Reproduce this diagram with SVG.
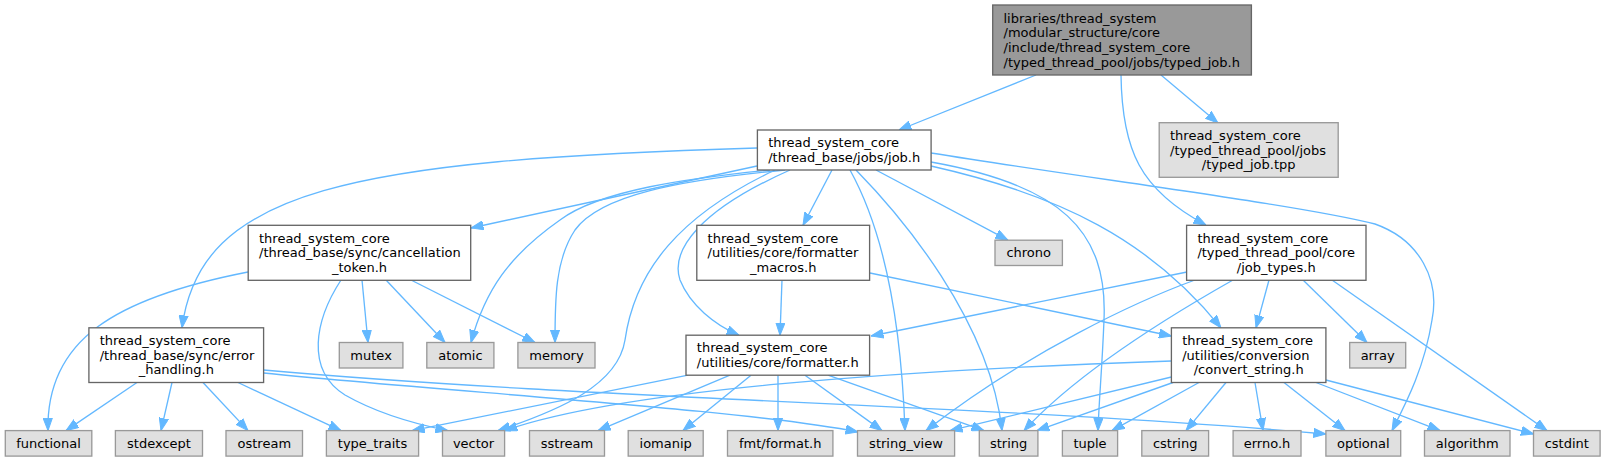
<svg xmlns="http://www.w3.org/2000/svg" width="1606" height="461" viewBox="0 0 1606 461">
<style>
text{font-family:"DejaVu Sans","Liberation Sans",sans-serif;font-size:13px;fill:#000}
.c{text-anchor:middle}
.w{fill:#ffffff;stroke:#666666;stroke-width:1.33}
.g{fill:#e0e0e0;stroke:#999999;stroke-width:1.33}
.r{fill:#999999;stroke:#666666;stroke-width:1.33}
.e{fill:none;stroke:#63b8ff;stroke-width:1.33;marker-end:url(#arr)}
</style>
<defs>
<marker id="arr" viewBox="0 0 12.5 10" refX="12.5" refY="5" markerWidth="12.5" markerHeight="10" markerUnits="userSpaceOnUse" orient="auto">
<path d="M0,0.4 L12.5,5 L0,9.6 z" fill="#63b8ff" stroke="#63b8ff" stroke-width="1"/>
</marker>
</defs>
<g id="edges">
<path class="e" d="M1036,75 L899,130"/>
<path class="e" d="M1161,75 L1218,123"/>
<path class="e" d="M1121,75 C1122,150 1140,190 1206,225"/>
<path class="e" d="M757,148 C350,160 200,190 182,327.8"/>
<path class="e" d="M757,166 L471,228"/>
<path class="e" d="M770,170 C690,178 600,190 560,220 C510,255 485,290 471,342.5"/>
<path class="e" d="M785,170 C680,180 600,195 575,230 C555,260 555,300 555,342.5"/>
<path class="e" d="M775,170 C680,215 635,270 625,340 C618,385 560,410 498,430.6"/>
<path class="e" d="M790,170 C700,210 670,250 680,280 C690,305 715,325 739,335.2"/>
<path class="e" d="M832,170 L803,225.3"/>
<path class="e" d="M850,170 C875,215 900,290 905,430.6"/>
<path class="e" d="M856,170 C900,215 990,320 1002,430.6"/>
<path class="e" d="M876,170 L1008,240.2"/>
<path class="e" d="M931,162 C1060,185 1108,230 1104,320 C1102,370 1099,400 1098,430.6"/>
<path class="e" d="M931,166 C1060,195 1150,240 1221,327.8"/>
<path class="e" d="M931,153 C1100,180 1300,205 1375,224 C1420,240 1440,280 1432,320 C1424,370 1405,405 1392,430.6"/>
<path class="e" d="M248,272 C115,298 46,340 48,430.6"/>
<path class="e" d="M341,280 C315,320 305,370 345,395 C380,415 420,425 448,430.6"/>
<path class="e" d="M362,280 L368,342.5"/>
<path class="e" d="M386,280 L445,342.5"/>
<path class="e" d="M411,280 L535,342.5"/>
<path class="e" d="M782,280 L780,335.2"/>
<path class="e" d="M870,273 L1171.4,336"/>
<path class="e" d="M1187,272 L871,336"/>
<path class="e" d="M1195,280 C1140,300 1030,350 926,430.6"/>
<path class="e" d="M1233,280 C1180,310 1080,370 1024,430.6"/>
<path class="e" d="M1269,280 L1256,327.8"/>
<path class="e" d="M1303,280 L1367,342.5"/>
<path class="e" d="M1332,280 L1547,430.6"/>
<path class="e" d="M137,382.5 L66,430.6"/>
<path class="e" d="M172,382.5 L161,430.6"/>
<path class="e" d="M203,382.5 L248,430.6"/>
<path class="e" d="M238,382.5 L341,430.6"/>
<path class="e" d="M263.6,373 C450,392 750,410 858,432"/>
<path class="e" d="M263.6,370 C600,400 1000,405 1326,434"/>
<path class="e" d="M688,375.2 L412,430.6"/>
<path class="e" d="M730,375.2 L598,430.6"/>
<path class="e" d="M751,375.2 L683,430.6"/>
<path class="e" d="M778,375.2 L778,430.6"/>
<path class="e" d="M805,375.2 L882,430.6"/>
<path class="e" d="M828,375.2 L984,430.6"/>
<path class="e" d="M1171.4,361 C900,370 620,390 505,430.6"/>
<path class="e" d="M1171.4,377 L950,430.6"/>
<path class="e" d="M1173,382.5 L1037,430.6"/>
<path class="e" d="M1199,382.5 L1112,430.6"/>
<path class="e" d="M1226,382.5 L1186,430.6"/>
<path class="e" d="M1255,382.5 L1263,430.6"/>
<path class="e" d="M1284,382.5 L1345,430.6"/>
<path class="e" d="M1316,382.5 L1440,430.6"/>
<path class="e" d="M1325.9,380 L1533.5,434"/>
</g>
<g id="node_typed_job_h">
<rect class="r" x="992.7" y="5" width="258.7" height="70"/>
<text x="1003.5" y="22.5">libraries/thread_system</text>
<text x="1003.5" y="37.2">/modular_structure/core</text>
<text x="1003.5" y="51.8">/include/thread_system_core</text>
<text x="1003.5" y="66.5">/typed_thread_pool/jobs/typed_job.h</text>
</g>
<g id="node_job_h">
<rect class="w" x="757.4" y="130" width="173.7" height="40"/>
<text x="768.2" y="147.2">thread_system_core</text>
<text x="768.2" y="161.8">/thread_base/jobs/job.h</text>
</g>
<g id="node_typed_job_tpp">
<rect class="g" x="1159.2" y="122.7" width="179" height="54.6"/>
<text x="1170" y="139.8">thread_system_core</text>
<text x="1170" y="154.5">/typed_thread_pool/jobs</text>
<text class="c" x="1248.7" y="169.2">/typed_job.tpp</text>
</g>
<g id="node_cancellation_token_h">
<rect class="w" x="248.2" y="225.3" width="222.5" height="55"/>
<text x="259" y="242.6">thread_system_core</text>
<text x="259" y="257.3">/thread_base/sync/cancellation</text>
<text class="c" x="359.5" y="272">_token.h</text>
</g>
<g id="node_formatter_macros_h">
<rect class="w" x="696.8" y="225.3" width="172.8" height="55"/>
<text x="707.6" y="242.6">thread_system_core</text>
<text x="707.6" y="257.3">/utilities/core/formatter</text>
<text class="c" x="783.2" y="272">_macros.h</text>
</g>
<g id="node_chrono">
<rect class="g" x="995" y="240.2" width="67.4" height="25.3"/>
<text class="c" x="1028.7" y="257.3">chrono</text>
</g>
<g id="node_job_types_h">
<rect class="w" x="1186.6" y="225.3" width="179.4" height="55"/>
<text x="1197.4" y="242.6">thread_system_core</text>
<text x="1197.4" y="257.3">/typed_thread_pool/core</text>
<text class="c" x="1276.3" y="272">/job_types.h</text>
</g>
<g id="node_error_handling_h">
<rect class="w" x="88.9" y="327.8" width="174.7" height="54.7"/>
<text x="99.7" y="345">thread_system_core</text>
<text x="99.7" y="359.7">/thread_base/sync/error</text>
<text class="c" x="176.3" y="374.4">_handling.h</text>
</g>
<g id="node_mutex">
<rect class="g" x="339.3" y="342.5" width="63.6" height="25.5"/>
<text class="c" x="371.1" y="359.7">mutex</text>
</g>
<g id="node_atomic">
<rect class="g" x="426.8" y="342.5" width="67.1" height="25.5"/>
<text class="c" x="460.4" y="359.7">atomic</text>
</g>
<g id="node_memory">
<rect class="g" x="517.9" y="342.5" width="77.1" height="25.5"/>
<text class="c" x="556.5" y="359.7">memory</text>
</g>
<g id="node_formatter_h">
<rect class="w" x="686" y="335.2" width="183.6" height="40"/>
<text x="696.8" y="352.4">thread_system_core</text>
<text x="696.8" y="367">/utilities/core/formatter.h</text>
</g>
<g id="node_convert_string_h">
<rect class="w" x="1171.4" y="327.8" width="154.5" height="54.7"/>
<text x="1182.2" y="345">thread_system_core</text>
<text x="1182.2" y="359.7">/utilities/conversion</text>
<text class="c" x="1248.7" y="374.4">/convert_string.h</text>
</g>
<g id="node_array">
<rect class="g" x="1349.7" y="342.5" width="56" height="25.5"/>
<text class="c" x="1377.7" y="359.7">array</text>
</g>
<g id="node_functional"><rect class="g" x="5.3" y="430.6" width="86.5" height="25.5"/><text class="c" x="48.5" y="447.9">functional</text></g>
<g id="node_stdexcept"><rect class="g" x="115.4" y="430.6" width="87.1" height="25.5"/><text class="c" x="159" y="447.9">stdexcept</text></g>
<g id="node_ostream"><rect class="g" x="226" y="430.6" width="76.5" height="25.5"/><text class="c" x="264.3" y="447.9">ostream</text></g>
<g id="node_type_traits"><rect class="g" x="326.4" y="430.6" width="92.2" height="25.5"/><text class="c" x="372.5" y="447.9">type_traits</text></g>
<g id="node_vector"><rect class="g" x="442.5" y="430.6" width="62.1" height="25.5"/><text class="c" x="473.5" y="447.9">vector</text></g>
<g id="node_sstream"><rect class="g" x="529.5" y="430.6" width="75" height="25.5"/><text class="c" x="567" y="447.9">sstream</text></g>
<g id="node_iomanip"><rect class="g" x="628.2" y="430.6" width="75" height="25.5"/><text class="c" x="665.7" y="447.9">iomanip</text></g>
<g id="node_fmt_format_h"><rect class="g" x="727.5" y="430.6" width="105.4" height="25.5"/><text class="c" x="780.2" y="447.9">fmt/format.h</text></g>
<g id="node_string_view"><rect class="g" x="857.5" y="430.6" width="97.1" height="25.5"/><text class="c" x="906" y="447.9">string_view</text></g>
<g id="node_string"><rect class="g" x="979.3" y="430.6" width="58.6" height="25.5"/><text class="c" x="1008.6" y="447.9">string</text></g>
<g id="node_tuple"><rect class="g" x="1062.4" y="430.6" width="55.2" height="25.5"/><text class="c" x="1090" y="447.9">tuple</text></g>
<g id="node_cstring"><rect class="g" x="1141.8" y="430.6" width="66.8" height="25.5"/><text class="c" x="1175.2" y="447.9">cstring</text></g>
<g id="node_errno_h"><rect class="g" x="1233.1" y="430.6" width="67.9" height="25.5"/><text class="c" x="1267" y="447.9">errno.h</text></g>
<g id="node_optional"><rect class="g" x="1325.9" y="430.6" width="74.8" height="25.5"/><text class="c" x="1363.3" y="447.9">optional</text></g>
<g id="node_algorithm"><rect class="g" x="1424.5" y="430.6" width="85.5" height="25.5"/><text class="c" x="1467.2" y="447.9">algorithm</text></g>
<g id="node_cstdint"><rect class="g" x="1533.5" y="430.6" width="66.6" height="25.5"/><text class="c" x="1566.8" y="447.9">cstdint</text></g>
</svg>
